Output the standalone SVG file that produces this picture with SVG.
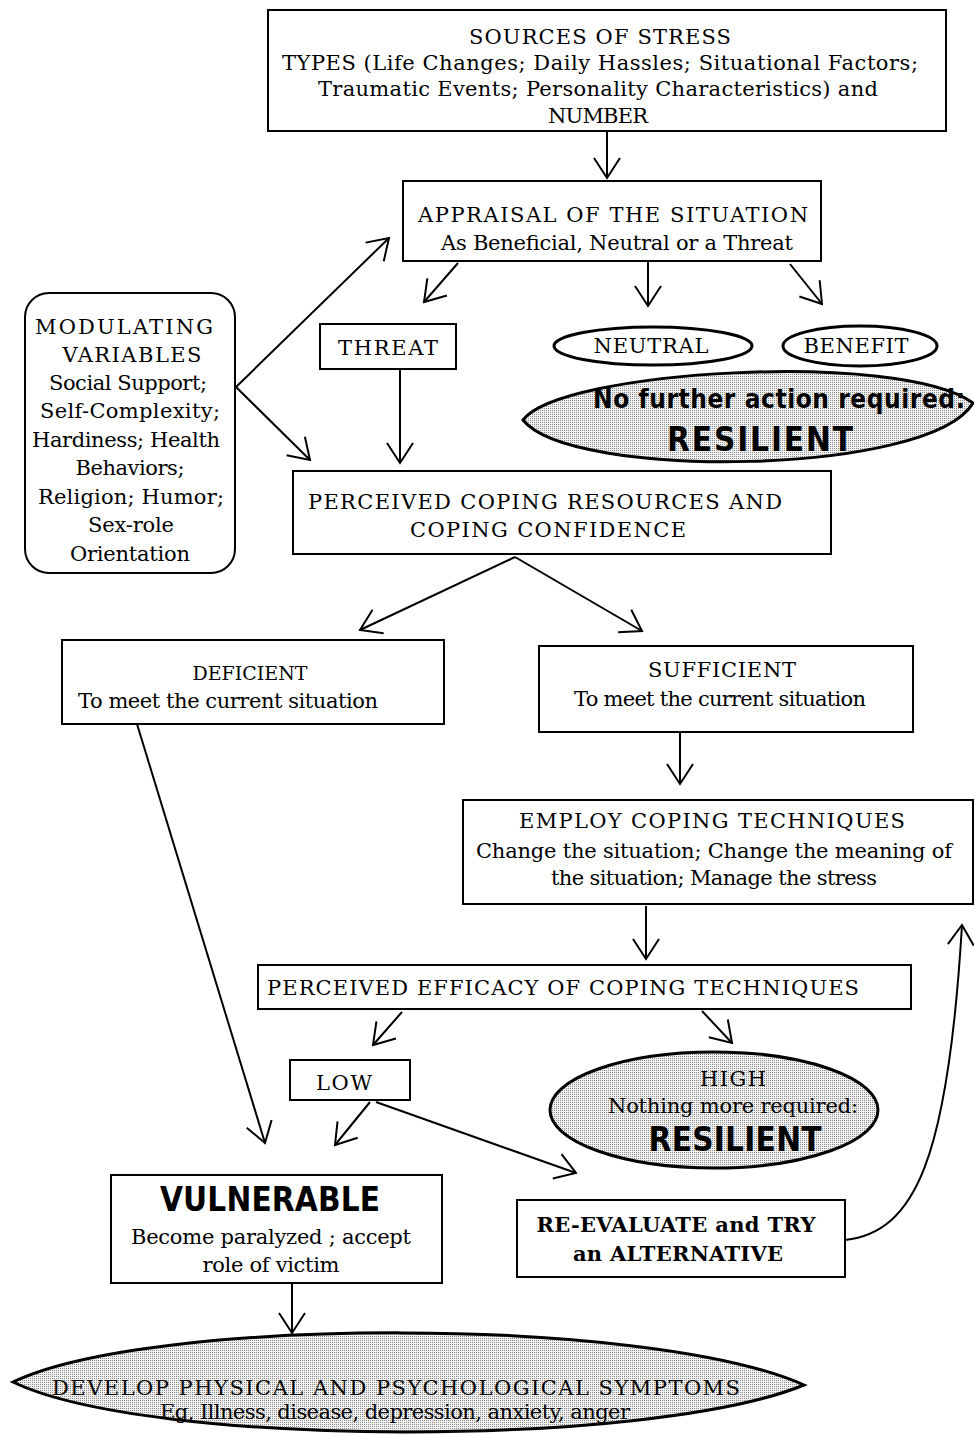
<svg xmlns="http://www.w3.org/2000/svg" width="974" height="1435" viewBox="0 0 974 1435">
<style>
.box{fill:#fff;stroke:#000;stroke-width:2}
.shade{fill:url(#dots);stroke:#000;stroke-width:3}
.oval{fill:#fff;stroke:#000;stroke-width:3}
text{font-family:"DejaVu Serif","Liberation Serif",serif;font-size:21px;fill:#000;text-anchor:middle}
.m{font-size:21px}
.big{font-family:"DejaVu Sans Condensed","DejaVu Sans",sans-serif;font-weight:bold;font-size:33px}
.chi{font-family:"DejaVu Sans Condensed","DejaVu Sans",sans-serif;font-weight:bold;font-size:26px}
.bd{font-weight:bold}
.conn line,.conn path{stroke:#000;stroke-width:2;fill:none}
</style>
<defs>
<pattern id="dots" width="2" height="2" patternUnits="userSpaceOnUse">
<rect width="2" height="2" fill="#f2f2f2"/>
<rect width="1" height="1" fill="#8a8a8a"/>
</pattern>
<marker id="ah" viewBox="0 0 24 30" refX="22" refY="15" markerWidth="24" markerHeight="30" markerUnits="userSpaceOnUse" orient="auto">
<path d="M2,2 L22,15 L2,28" fill="none" stroke="#000" stroke-width="2"/>
</marker>
</defs>

<g id="sources">
<rect class="box" x="268" y="10" width="678" height="121"/>
<text x="600" y="44" textLength="262">SOURCES OF STRESS</text>
<text x="600" y="70" class="m" textLength="636">TYPES (Life Changes; Daily Hassles; Situational Factors;</text>
<text x="598" y="96" class="m" textLength="560">Traumatic Events; Personality Characteristics) and</text>
<text x="598" y="123" textLength="100">NUMBER</text>
</g>

<g id="appraisal">
<rect class="box" x="403" y="181" width="418" height="80"/>
<text x="613" y="222" textLength="390">APPRAISAL OF THE SITUATION</text>
<text x="617" y="250" class="m" textLength="352">As Beneficial, Neutral or a Threat</text>
</g>

<g id="threat">
<rect class="box" x="320" y="324" width="136" height="45"/>
<text x="388" y="355" textLength="100">THREAT</text>
</g>

<g id="neutral">
<ellipse class="oval" cx="653" cy="346" rx="99" ry="19"/>
<text x="651" y="353" textLength="115">NEUTRAL</text>
</g>

<g id="benefit">
<ellipse class="oval" cx="860" cy="346" rx="77" ry="20"/>
<text x="856" y="353" textLength="105">BENEFIT</text>
</g>

<g id="resilient1">
<path class="shade" d="M523,420 C560,370 900,350 973,403 C930,476 570,480 523,420 Z"/>
<text x="779" y="408" class="chi" textLength="372">No further action required:</text>
<text x="760" y="451" class="big" textLength="186">RESILIENT</text>
</g>

<g id="modulating">
<rect class="box" x="25" y="293" width="210" height="280" rx="24"/>
<text x="124" y="334" textLength="178">MODULATING</text>
<text x="132" y="362" textLength="139">VARIABLES</text>
<text x="128" y="390" class="m" textLength="158">Social Support;</text>
<text x="130" y="418" class="m" textLength="180">Self-Complexity;</text>
<text x="126" y="447" class="m" textLength="188">Hardiness; Health</text>
<text x="130" y="475" class="m" textLength="109">Behaviors;</text>
<text x="131" y="504" class="m" textLength="186">Religion; Humor;</text>
<text x="131" y="532" class="m" textLength="86">Sex-role</text>
<text x="130" y="561" class="m" textLength="120">Orientation</text>
</g>

<g id="coping">
<rect class="box" x="293" y="471" width="538" height="83"/>
<text x="545" y="509" textLength="474">PERCEIVED COPING RESOURCES AND</text>
<text x="548" y="537" textLength="276">COPING CONFIDENCE</text>
</g>

<g id="deficient">
<rect class="box" x="62" y="640" width="382" height="84"/>
<text x="250" y="680" style="font-size:19px">DEFICIENT</text>
<text x="228" y="708" class="m" textLength="300">To meet the current situation</text>
</g>

<g id="sufficient">
<rect class="box" x="539" y="646" width="374" height="86"/>
<text x="722" y="677" textLength="148">SUFFICIENT</text>
<text x="720" y="706" class="m" textLength="292">To meet the current situation</text>
</g>

<g id="employ">
<rect class="box" x="463" y="800" width="510" height="104"/>
<text x="712" y="828" textLength="386">EMPLOY COPING TECHNIQUES</text>
<text x="714" y="858" class="m" textLength="476">Change the situation; Change the meaning of</text>
<text x="714" y="885" class="m" textLength="326">the situation; Manage the stress</text>
</g>

<g id="efficacy">
<rect class="box" x="258" y="965" width="653" height="44"/>
<text x="563" y="995" textLength="592">PERCEIVED EFFICACY OF COPING TECHNIQUES</text>
</g>

<g id="low">
<rect class="box" x="290" y="1060" width="120" height="40"/>
<text x="344" y="1090" textLength="56">LOW</text>
</g>

<g id="high">
<ellipse class="shade" cx="714" cy="1110" rx="164" ry="58"/>
<text x="733" y="1086" textLength="66">HIGH</text>
<text x="733" y="1113" class="m" textLength="250">Nothing more required:</text>
<text x="735" y="1151" class="big" textLength="173">RESILIENT</text>
</g>

<g id="vulnerable">
<rect class="box" x="111" y="1175" width="331" height="108"/>
<text x="270" y="1211" class="big" textLength="220">VULNERABLE</text>
<text x="271" y="1244" class="m" textLength="280">Become paralyzed ; accept</text>
<text x="271" y="1272" class="m" textLength="137">role of victim</text>
</g>

<g id="reevaluate">
<rect class="box" x="517" y="1200" width="328" height="77"/>
<text x="676" y="1232" class="bd" textLength="279">RE-EVALUATE and TRY</text>
<text x="678" y="1261" class="bd" textLength="210">an ALTERNATIVE</text>
</g>

<g id="symptoms">
<path class="shade" d="M13,1382 C150,1316 650,1316 804,1385 C650,1448 150,1448 13,1382 Z"/>
<text x="396" y="1395" textLength="688">DEVELOP PHYSICAL AND PSYCHOLOGICAL SYMPTOMS</text>
<text x="395" y="1419" class="m" textLength="470">Eg, Illness, disease, depression, anxiety, anger</text>
</g>

<g class="conn" id="connectors">
<line x1="607" y1="131" x2="607" y2="178" marker-end="url(#ah)"/>
<line x1="458" y1="263" x2="424" y2="302" marker-end="url(#ah)"/>
<line x1="648" y1="262" x2="648" y2="306" marker-end="url(#ah)"/>
<line x1="790" y1="264" x2="822" y2="304" marker-end="url(#ah)"/>
<line x1="236" y1="387" x2="389" y2="238" marker-end="url(#ah)"/>
<line x1="236" y1="387" x2="310" y2="460" marker-end="url(#ah)"/>
<line x1="400" y1="369" x2="400" y2="463" marker-end="url(#ah)"/>
<line x1="515" y1="557" x2="360" y2="630" marker-end="url(#ah)"/>
<line x1="515" y1="557" x2="642" y2="631" marker-end="url(#ah)"/>
<line x1="680" y1="733" x2="680" y2="784" marker-end="url(#ah)"/>
<line x1="646" y1="906" x2="646" y2="959" marker-end="url(#ah)"/>
<line x1="402" y1="1012" x2="373" y2="1045" marker-end="url(#ah)"/>
<line x1="702" y1="1011" x2="732" y2="1043" marker-end="url(#ah)"/>
<line x1="370" y1="1102" x2="335" y2="1145" marker-end="url(#ah)"/>
<line x1="376" y1="1102" x2="576" y2="1173" marker-end="url(#ah)"/>
<line x1="137" y1="724" x2="265" y2="1143" marker-end="url(#ah)"/>
<path d="M845,1240 C915,1232 948,1160 962,925" marker-end="url(#ah)"/>
<line x1="292" y1="1284" x2="292" y2="1333" marker-end="url(#ah)"/>
</g>
</svg>
